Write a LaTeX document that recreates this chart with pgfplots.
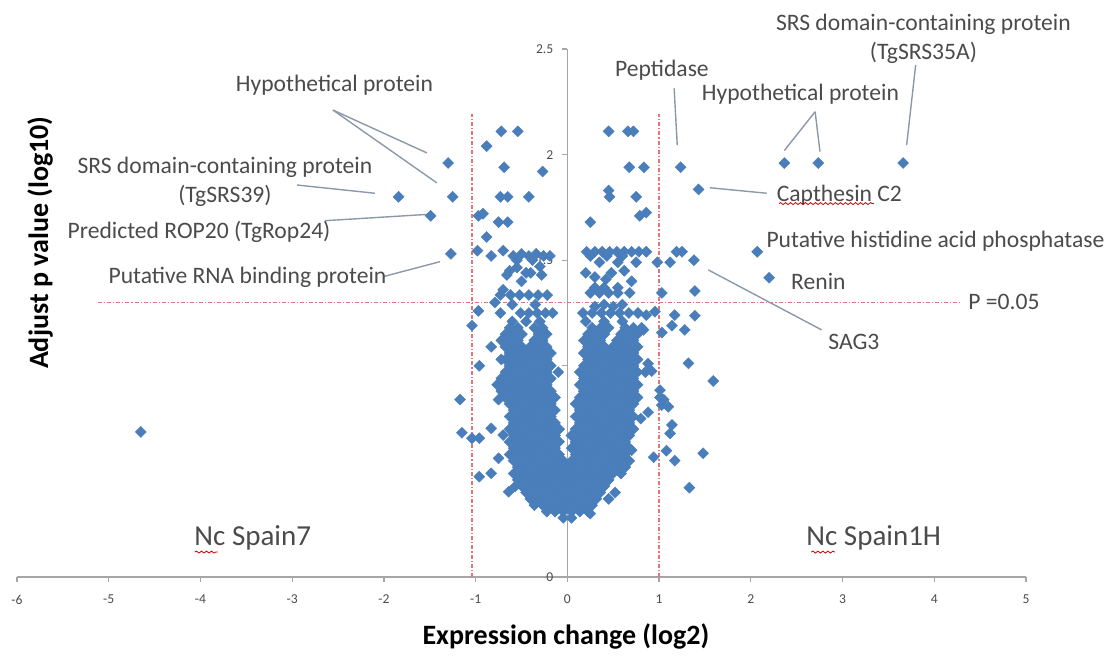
\documentclass[border=0pt]{standalone}
\usepackage{pgfplots}
\pgfplotsset{compat=1.18}
\usepackage{fontspec}
\setmainfont{Carlito}
\usetikzlibrary{decorations.pathmorphing}
\definecolor{ptblue}{HTML}{4A7EBB}
\definecolor{leadgray}{RGB}{140,152,170}
\definecolor{refred}{RGB}{222,120,120}
\definecolor{txtgray}{RGB}{75,75,75}
\tikzset{
  ann/.style={font=\fontsize{11.8}{14.5}\selectfont, text=txtgray, inner sep=0pt, align=center},
  lead/.style={leadgray, line width=0.7pt},
  cut/.style={refred, line width=0.6pt, dash pattern=on 2pt off 1pt on 0.6pt off 1pt},
  squig/.style={red!80!black, line width=0.4pt, decorate, decoration={snake, amplitude=0.5pt, segment length=2.5pt}},
}
\pgfplotsset{dots/.style={only marks, mark=square*, mark size=1.95pt,
  mark options={rotate=45, fill=ptblue, draw=ptblue, line width=0.2pt}}}

\begin{document}
\begin{tikzpicture}
\path[use as bounding box] (-8.5pt,-40pt) rectangle (546pt,288.5pt);
\begin{axis}[
  at={(0pt,0pt)}, anchor=south west,
  scale only axis, width=504.5pt, height=264pt,
  xmin=-6, xmax=5, ymin=0, ymax=2.5,
  axis lines=middle,
  axis line style={draw=gray!70, line width=0.6pt, -},
  xtick={-6,-5,-4,-3,-2,-1,0,1,2,3,4,5},
  ytick={0,0.5,1,1.5,2,2.5},
  hide obscured x ticks=false, hide obscured y ticks=false,
  tick align=outside, major tick length=2.5pt,
  tick style={gray!70, line width=0.6pt},
  tick label style={font=\fontsize{6.8}{7}\selectfont, text=txtgray},
  xticklabel style={yshift=-3pt},
  yticklabel style={xshift=-1pt},
  /pgf/number format/assume math mode=true,
  clip=false,
]
% cut-off lines
\draw[cut] (-1.04,0) -- (-1.04,2.19);
\draw[cut] (1.0,0) -- (1.0,2.19);
\draw[cut] (-5.12,1.301) -- (4.28,1.301);

% dense core of the volcano
\addplot[dots] coordinates {
(-0.045,0.28) (0.045,0.28)
(-0.225,0.31) (-0.135,0.31) (-0.045,0.31) (0.045,0.31) (0.135,0.31) (0.225,0.31)
(-0.36,0.34) (-0.27,0.34) (-0.18,0.34) (-0.09,0.34) (0,0.34) (0.09,0.34) (0.18,0.34) (0.27,0.34)
(-0.405,0.37) (-0.315,0.37) (-0.225,0.37) (-0.135,0.37) (-0.045,0.37) (0.045,0.37) (0.135,0.37) (0.225,0.37) (0.315,0.37)
(-0.45,0.40) (-0.36,0.40) (-0.27,0.40) (-0.18,0.40) (-0.09,0.40) (0,0.40) (0.09,0.40) (0.18,0.40) (0.27,0.40) (0.36,0.40)
(-0.495,0.43) (-0.405,0.43) (-0.315,0.43) (-0.225,0.43) (-0.135,0.43) (-0.045,0.43) (0.045,0.43) (0.135,0.43) (0.225,0.43) (0.315,0.43) (0.405,0.43)
(-0.54,0.46) (-0.45,0.46) (-0.36,0.46) (-0.27,0.46) (-0.18,0.46) (-0.09,0.46) (0,0.46) (0.09,0.46) (0.18,0.46) (0.27,0.46) (0.36,0.46) (0.45,0.46)
(-0.585,0.49) (-0.495,0.49) (-0.405,0.49) (-0.315,0.49) (-0.225,0.49) (-0.135,0.49) (-0.045,0.49) (0.045,0.49) (0.135,0.49) (0.225,0.49) (0.315,0.49) (0.405,0.49) (0.495,0.49) (0.585,0.49)
(-0.54,0.52) (-0.45,0.52) (-0.36,0.52) (-0.27,0.52) (-0.18,0.52) (-0.09,0.52) (0,0.52) (0.09,0.52) (0.18,0.52) (0.27,0.52) (0.36,0.52) (0.45,0.52) (0.54,0.52) (0.63,0.52)
(-0.585,0.55) (-0.495,0.55) (-0.405,0.55) (-0.315,0.55) (-0.225,0.55) (-0.135,0.55) (-0.045,0.55) (0.045,0.55) (0.135,0.55) (0.225,0.55) (0.315,0.55) (0.405,0.55) (0.495,0.55) (0.585,0.55) (0.675,0.55)
(-0.63,0.58) (-0.54,0.58) (-0.45,0.58) (-0.36,0.58) (-0.27,0.58) (-0.18,0.58) (-0.09,0.58) (0.09,0.58) (0.18,0.58) (0.27,0.58) (0.36,0.58) (0.45,0.58) (0.54,0.58) (0.63,0.58)
(-0.585,0.61) (-0.495,0.61) (-0.405,0.61) (-0.315,0.61) (-0.225,0.61) (-0.135,0.61) (0.045,0.61) (0.135,0.61) (0.225,0.61) (0.315,0.61) (0.405,0.61) (0.495,0.61) (0.585,0.61) (0.675,0.61)
(-0.63,0.64) (-0.54,0.64) (-0.45,0.64) (-0.36,0.64) (-0.27,0.64) (-0.18,0.64) (-0.09,0.64) (0.09,0.64) (0.18,0.64) (0.27,0.64) (0.36,0.64) (0.45,0.64) (0.54,0.64) (0.63,0.64)
(-0.585,0.67) (-0.495,0.67) (-0.405,0.67) (-0.315,0.67) (-0.225,0.67) (-0.135,0.67) (0.045,0.67) (0.135,0.67) (0.225,0.67) (0.315,0.67) (0.405,0.67) (0.495,0.67) (0.585,0.67) (0.675,0.67)
(-0.63,0.70) (-0.54,0.70) (-0.45,0.70) (-0.36,0.70) (-0.27,0.70) (-0.18,0.70) (-0.09,0.70) (0.09,0.70) (0.18,0.70) (0.27,0.70) (0.36,0.70) (0.45,0.70) (0.54,0.70) (0.63,0.70)
(-0.585,0.73) (-0.495,0.73) (-0.405,0.73) (-0.315,0.73) (-0.225,0.73) (-0.135,0.73) (0.135,0.73) (0.225,0.73) (0.315,0.73) (0.405,0.73) (0.495,0.73) (0.585,0.73) (0.675,0.73)
(-0.63,0.76) (-0.54,0.76) (-0.45,0.76) (-0.36,0.76) (-0.27,0.76) (-0.18,0.76) (0.09,0.76) (0.18,0.76) (0.27,0.76) (0.36,0.76) (0.45,0.76) (0.54,0.76) (0.63,0.76) (0.72,0.76)
(-0.585,0.79) (-0.495,0.79) (-0.405,0.79) (-0.315,0.79) (-0.225,0.79) (-0.135,0.79) (0.135,0.79) (0.225,0.79) (0.315,0.79) (0.405,0.79) (0.495,0.79) (0.585,0.79) (0.675,0.79)
(-0.63,0.82) (-0.54,0.82) (-0.45,0.82) (-0.36,0.82) (-0.27,0.82) (-0.18,0.82) (0.09,0.82) (0.18,0.82) (0.27,0.82) (0.36,0.82) (0.45,0.82) (0.54,0.82) (0.63,0.82) (0.72,0.82)
(-0.675,0.85) (-0.585,0.85) (-0.495,0.85) (-0.405,0.85) (-0.315,0.85) (-0.225,0.85) (-0.135,0.85) (0.135,0.85) (0.225,0.85) (0.315,0.85) (0.405,0.85) (0.495,0.85) (0.585,0.85) (0.675,0.85) (0.765,0.85)
(-0.72,0.88) (-0.63,0.88) (-0.54,0.88) (-0.45,0.88) (-0.36,0.88) (-0.27,0.88) (-0.18,0.88) (0.18,0.88) (0.27,0.88) (0.36,0.88) (0.45,0.88) (0.54,0.88) (0.63,0.88) (0.72,0.88)
(-0.765,0.91) (-0.675,0.91) (-0.585,0.91) (-0.495,0.91) (-0.405,0.91) (-0.315,0.91) (-0.225,0.91) (0.135,0.91) (0.225,0.91) (0.315,0.91) (0.405,0.91) (0.495,0.91) (0.585,0.91) (0.675,0.91) (0.765,0.91)
(-0.72,0.94) (-0.63,0.94) (-0.54,0.94) (-0.45,0.94) (-0.36,0.94) (-0.27,0.94) (-0.18,0.94) (0.18,0.94) (0.27,0.94) (0.36,0.94) (0.45,0.94) (0.54,0.94) (0.63,0.94) (0.72,0.94)
(-0.675,0.97) (-0.585,0.97) (-0.495,0.97) (-0.405,0.97) (-0.315,0.97) (-0.225,0.97) (0.135,0.97) (0.225,0.97) (0.315,0.97) (0.405,0.97) (0.495,0.97) (0.585,0.97) (0.675,0.97) (0.765,0.97)
(-0.63,1.00) (-0.54,1.00) (-0.45,1.00) (-0.36,1.00) (-0.27,1.00) (-0.18,1.00) (0.18,1.00) (0.27,1.00) (0.36,1.00) (0.45,1.00) (0.54,1.00) (0.63,1.00) (0.72,1.00)
(-0.675,1.03) (-0.585,1.03) (-0.495,1.03) (-0.405,1.03) (-0.315,1.03) (-0.225,1.03) (0.225,1.03) (0.315,1.03) (0.405,1.03) (0.495,1.03) (0.585,1.03) (0.675,1.03) (0.765,1.03)
(-0.63,1.06) (-0.54,1.06) (-0.45,1.06) (-0.36,1.06) (-0.27,1.06) (-0.18,1.06) (0.18,1.06) (0.27,1.06) (0.36,1.06) (0.45,1.06) (0.54,1.06) (0.63,1.06) (0.72,1.06)
(-0.675,1.09) (-0.585,1.09) (-0.495,1.09) (-0.405,1.09) (-0.315,1.09) (-0.225,1.09) (0.225,1.09) (0.315,1.09) (0.405,1.09) (0.495,1.09) (0.585,1.09) (0.675,1.09) (0.765,1.09)
(-0.72,1.12) (-0.63,1.12) (-0.54,1.12) (-0.36,1.12) (-0.27,1.12) (0.18,1.12) (0.27,1.12) (0.36,1.12) (0.54,1.12) (0.63,1.12) (0.72,1.12)
(-0.675,1.15) (-0.585,1.15) (-0.495,1.15) (-0.315,1.15) (-0.225,1.15) (0.225,1.15) (0.315,1.15) (0.405,1.15) (0.585,1.15) (0.675,1.15) (0.765,1.15)
(-0.63,1.18) (-0.54,1.18) (-0.36,1.18) (-0.27,1.18) (0.27,1.18) (0.36,1.18) (0.45,1.18) (0.63,1.18) (0.72,1.18) (0.81,1.18)
};

% upper rows and scattered genes
\addplot[dots] coordinates {
(-0.60,1.21) (-0.45,1.21) (-0.30,1.21)
(-0.73,1.25) (-0.51,1.25) (-0.42,1.25) (-0.33,1.25) (-0.24,1.25) (-0.16,1.25) (-0.97,1.26) (-1.04,1.19)
(-0.79,1.30) (-0.60,1.29) (-0.35,1.29)
(-0.73,1.335) (-0.62,1.335) (-0.52,1.335) (-0.42,1.335) (-0.32,1.335) (-0.22,1.335)
(-0.70,1.36) (-0.66,1.43) (-0.63,1.45) (-0.30,1.47) (-0.28,1.43) (-0.50,1.40)
(-0.45,1.44) (-0.40,1.44) (-0.55,1.465)
(-0.98,1.545) (-0.83,1.52) (-0.70,1.545) (-0.59,1.52) (-0.50,1.53) (-0.42,1.52) (-0.34,1.53) (-0.26,1.52) (-0.19,1.52) (-0.55,1.50) (-0.38,1.50)
(-0.88,1.61) (-0.75,1.68) (-0.65,1.68) (-0.97,1.71) (-0.92,1.72)
(-0.73,1.80) (-0.65,1.80) (-0.42,1.80) (-0.27,1.92) (-0.69,1.94) (-0.88,2.04) (-0.72,2.11) (-0.54,2.11)
(-1.30,1.96) (-1.84,1.80) (-1.25,1.80) (-1.49,1.71) (-1.27,1.53)
(0.17,1.25) (0.27,1.25) (0.37,1.25) (0.47,1.25) (0.57,1.25) (0.67,1.25) (0.77,1.25) (0.86,1.24) (0.955,1.256) (1.17,1.24) (1.39,1.237)
(0.83,1.17) (1.28,1.17) (1.03,1.157) (1.14,1.19)
(0.30,1.28) (0.40,1.29) (0.50,1.28) (0.60,1.29) (0.20,1.21) (0.40,1.21) (0.60,1.21)
(0.25,1.345) (0.35,1.345) (0.45,1.345) (0.55,1.345) (0.68,1.345) (1.03,1.345) (1.39,1.354)
(0.30,1.37) (0.40,1.37) (0.55,1.37) (0.42,1.41) (0.48,1.44)
(0.20,1.44) (0.30,1.42) (0.62,1.45) (0.70,1.40)
(0.98,1.49) (1.12,1.49) (0.35,1.49) (0.55,1.49) (0.75,1.49)
(0.21,1.54) (0.30,1.54) (0.38,1.54) (0.46,1.54) (0.54,1.54) (0.62,1.54) (0.70,1.54) (0.78,1.54) (0.86,1.54) (1.19,1.54) (1.25,1.54) (1.38,1.50)
(0.25,1.52) (0.43,1.52) (0.60,1.52)
(0.25,1.68) (0.79,1.71) (0.86,1.725) (0.46,1.80) (0.45,1.83) (0.75,1.80)
(0.675,1.94) (0.835,1.94) (1.235,1.94) (0.45,2.11) (0.66,2.11) (0.72,2.11)
(1.43,1.835) (2.365,1.96) (2.735,1.96) (3.66,1.96) (2.07,1.54) (2.20,1.417)
(0.92,0.975) (1.01,0.885) (1.01,0.85) (1.05,0.84) (0.88,0.78) (0.80,0.75) (1.10,0.806) (1.03,0.814)
(1.14,0.72) (1.12,0.68) (1.48,0.586) (1.08,0.598) (0.94,0.567) (1.17,0.551) (1.33,0.423) (1.32,1.012)
(1.59,0.928) (0.85,0.97) (0.88,1.01) (0.72,0.70) (0.70,0.60) (0.52,0.40) (0.45,0.37) (0.25,0.30)
(-1.17,0.84) (-0.75,0.84) (-0.83,1.09) (-0.96,1.00) (-0.72,1.03) (-1.15,0.683) (-1.04,0.657) (-0.96,0.657)
(-0.83,0.704) (-0.70,0.672) (-0.75,0.562) (-0.96,0.475) (-0.83,0.491) (-0.64,0.404) (-0.57,0.428) (-0.10,0.97)
(-4.65,0.687)
};

% leader lines
\draw[lead] (-2.556,2.211) -- (-1.532,2.008);
\draw[lead] (-2.556,2.211) -- (-1.423,1.866);
\draw[lead] (-2.949,1.856) -- (-2.099,1.817);
\draw[lead] (-2.643,1.687) -- (-1.520,1.717);
\draw[lead] (-2.009,1.422) -- (-1.388,1.493);
\draw[lead] (1.164,2.314) -- (1.198,2.045);
\draw[lead] (2.701,2.203) -- (2.365,2.019);
\draw[lead] (2.701,2.203) -- (2.754,2.014);
\draw[lead] (3.797,2.424) -- (3.699,2.045);
\draw[lead] (1.553,1.843) -- (2.173,1.817);
\draw[lead] (1.536,1.454) -- (2.772,1.170);

% labels
\node[ann] at (-2.539,2.33) {Hypothetical protein};
\node[ann] at (-3.733,1.873) {SRS domain-containing protein\\(TgSRS39)};
\node[ann] at (-4.016,1.634) {Predicted ROP20 (TgRop24)};
\node[ann] at (-3.487,1.42) {Putative RNA binding protein};
\node[ann] at (1.031,2.40) {Peptidase};
\node[ann] at (2.541,2.287) {Hypothetical protein};
\node[ann] at (3.882,2.55) {SRS domain-containing protein\\(TgSRS35A)};
\node[ann] at (2.966,1.809) {Capthesin C2};
\draw[squig] (2.307,1.768) -- (3.343,1.768);
\node[ann] at (4.013,1.591) {Putative histidine acid phosphatase};
\node[ann] at (2.737,1.397) {Renin};
\node[ann] at (4.76,1.302) {P =0.05};
\node[ann] at (3.124,1.113) {SAG3};
\node[ann, font=\fontsize{14.5}{16}\selectfont] at (-3.43,0.185) {Nc Spain7};
\draw[squig] (-4.06,0.118) -- (-3.81,0.118);
\node[ann, font=\fontsize{14.5}{16}\selectfont] at (3.34,0.185) {Nc Spain1H};
\draw[squig] (2.66,0.118) -- (2.92,0.118);

% axis titles
\node[font=\bfseries\fontsize{14}{16}\selectfont] at (rel axis cs:0.544,-0.112) {Expression change (log2)};
\node[font=\bfseries\fontsize{14}{16}\selectfont, rotate=90] at (rel axis cs:0.0228,0.633) {Adjust p value (log10)};
\end{axis}
\end{tikzpicture}
\end{document}
